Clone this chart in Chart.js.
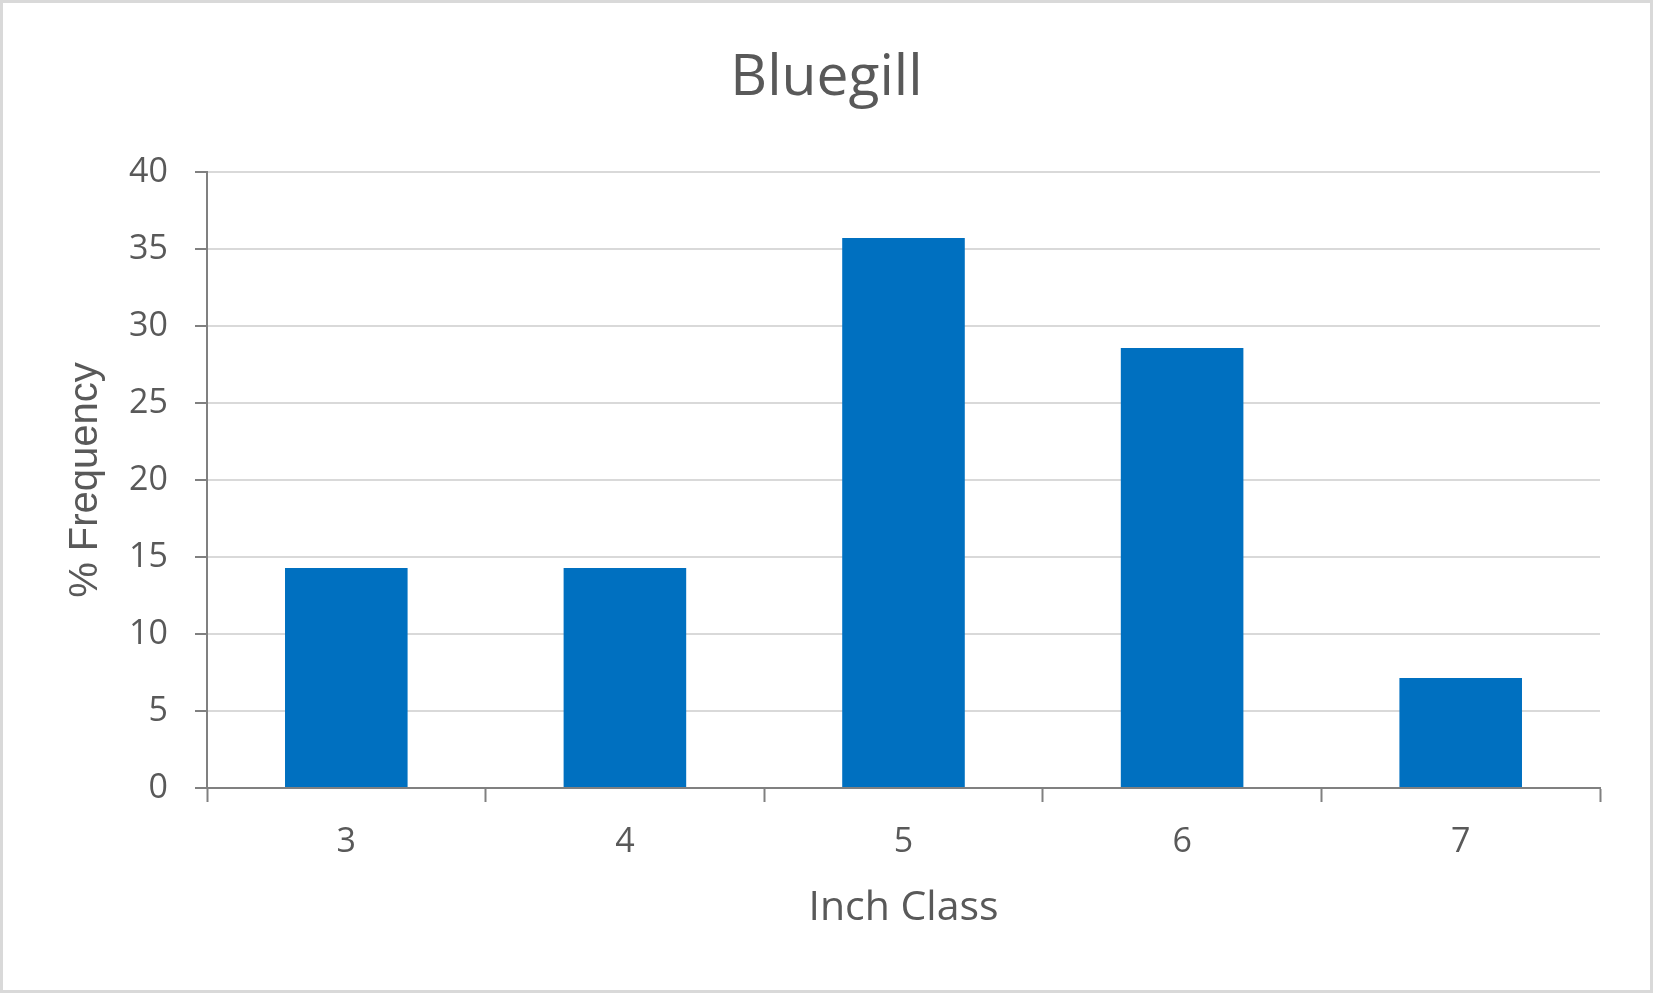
<html><head><meta charset="UTF-8"><title>Bluegill</title><style>
body {
    margin: 0;
    padding: 0;
    background-color: white;
}
.frame {
    width: 1653px;
    height: 993px;
    box-sizing: border-box;
    border: 3px solid #d9d9d9;
    background-color: white;
}
</style>
<script src="https://cdn.jsdelivr.net/npm/chart.js"></script>
</head>
<body>
<div class="frame">
    <canvas id="fishChart" width="1647" height="987"></canvas>
</div>
<script>
// Inch class vs % frequency
const inchClasses = ['3', '4', '5', '6', '7'];
const pctFrequency = [14.29, 14.29, 35.71, 28.57, 7.14];
const yTicks = [0, 5, 10, 15, 20, 25, 30, 35, 40];

const textColor = '#595959';
const axisColor = '#808080';

const ctx = document.getElementById('fishChart').getContext('2d');
const chart = new Chart(ctx, {
    type: 'bar',
    data: {
        labels: inchClasses,
        datasets: [{
            label: 'Bluegill',
            data: pctFrequency,
            backgroundColor: '#0070C0',
            borderWidth: 0,
            barPercentage: 0.44,
            categoryPercentage: 1.0
        }]
    },
    options: {
        responsive: false,
        animation: false,
        devicePixelRatio: 1,
        layout: {
            padding: { left: 50, right: 50, top: 0, bottom: 0 }
        },
        plugins: {
            legend: { display: false },
            tooltip: { enabled: false },
            title: {
                display: true,
                text: 'Bluegill',
                color: textColor,
                font: { family: 'Open Sans', size: 57, weight: 'normal' },
                padding: { top: 42, bottom: 58.6 }
            }
        },
        scales: {
            x: {
                grid: {
                    offset: true,
                    drawOnChartArea: false,
                    tickColor: axisColor,
                    tickWidth: 2,
                    tickLength: 14
                },
                border: { color: axisColor, width: 2 },
                ticks: {
                    color: textColor,
                    font: { family: 'Open Sans', size: 34 },
                    padding: 20
                },
                title: {
                    display: true,
                    text: 'Inch Class',
                    color: textColor,
                    font: { family: 'Open Sans', size: 41 },
                    padding: { top: 0, bottom: 57 }
                },
                afterFit: function(scale) { scale.height = 202; }
            },
            y: {
                min: 0,
                max: 40,
                afterBuildTicks: function(scale) {
                    scale.ticks = yTicks.map(v => ({ value: v }));
                },
                grid: {
                    color: '#d9d9d9',
                    lineWidth: 2,
                    tickColor: axisColor,
                    tickWidth: 2,
                    tickLength: 12
                },
                border: { color: axisColor, width: 2 },
                ticks: {
                    color: textColor,
                    font: { family: 'Open Sans', size: 34 },
                    padding: 27
                },
                title: {
                    display: true,
                    text: '% Frequency',
                    color: textColor,
                    font: { family: 'Liberation Sans', size: 40 },
                    padding: { top: 9, bottom: 0 }
                },
                afterFit: function(scale) { scale.width = 154; }
            }
        }
    }
});
</script>
</body></html>
